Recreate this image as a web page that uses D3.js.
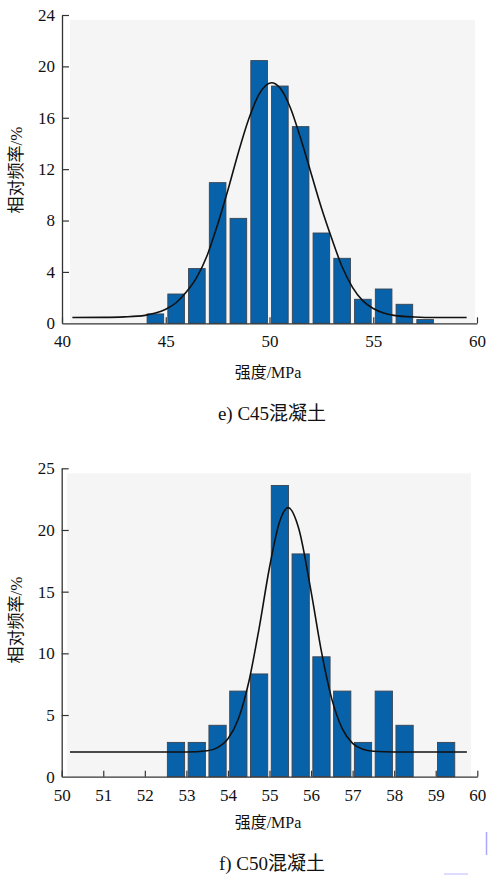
<!DOCTYPE html>
<html>
<head>
<meta charset="utf-8">
<script src="https://cdn.jsdelivr.net/npm/d3@7"></script>
<style>
  html, body { margin: 0; padding: 0; background: #fff; }
  svg { display: block; }
  .tick text { font-family: "Liberation Serif", "DejaVu Serif", "Times New Roman", Times, serif; font-size: 17px; fill: #111; }
  .lbl { font-family: "Liberation Serif", "DejaVu Serif", "Times New Roman", "Noto Sans CJK SC", serif; fill: #111; }
</style>
</head>
<body>
<svg id="chart" width="488" height="875"></svg>
<script>
// e) C45 相对频率 (bin 1 MPa)
var c45Centers = [44.5, 45.5, 46.5, 47.5, 48.5, 49.5, 50.5, 51.5, 52.5, 53.5, 54.5, 55.5, 56.5, 57.5];
var c45Freq = [0.73, 2.28, 4.26, 10.95, 8.17, 20.45, 18.47, 15.31, 7.03, 5.06, 1.87, 2.67, 1.48, 0.29];
// 正态拟合曲线（图上读取的点）
var c45CurveX = [40.5, 42, 43, 44, 44.5, 45, 45.5, 46, 46.5, 47, 47.5, 48, 48.5, 49, 49.5, 50.1, 50.5, 51, 51.5, 52, 52.5, 53, 53.5, 54, 54.5, 55, 55.5, 56, 57, 58, 59.5];
var c45CurveY = [0.45, 0.46, 0.5, 0.62, 0.8, 1.1, 1.6, 2.45, 3.6, 5.3, 7.7, 10.4, 13.3, 15.9, 17.84, 18.73, 18.33, 16.8, 14.4, 11.7, 9.0, 6.6, 4.4, 2.8, 1.75, 1.15, 0.8, 0.62, 0.49, 0.45, 0.45];
var c45XTicks = [40, 45, 50, 55, 60];
var c45YTicks = [0, 4, 8, 12, 16, 20, 24];

// f) C50 相对频率 (bin 0.5 MPa)
var c50Centers = [52.75, 53.25, 53.75, 54.25, 54.75, 55.25, 55.75, 56.25, 56.75, 57.25, 57.75, 58.25, 58.75, 59.25];
var c50Freq = [2.78, 2.78, 4.17, 6.94, 8.33, 23.61, 18.06, 9.72, 6.94, 2.78, 6.94, 4.17, 0, 2.78];
var c50CurveX = [50.2, 53, 53.5, 53.75, 54, 54.25, 54.5, 54.75, 55, 55.25, 55.45, 55.7, 56, 56.25, 56.5, 56.75, 57, 57.25, 57.5, 58, 59.75];
var c50CurveY = [2.0, 2.0, 2.1, 2.36, 3.07, 4.68, 7.66, 12.03, 16.96, 20.74, 21.81, 20.16, 15.02, 10.14, 6.29, 3.9, 2.7, 2.22, 2.06, 2.0, 2.0];
var c50XTicks = [50, 51, 52, 53, 54, 55, 56, 57, 58, 59, 60];
var c50YTicks = [0, 5, 10, 15, 20, 25];

var svg = d3.select('#chart');

function drawPanel(p) {
  var x = d3.scaleLinear().domain(p.xDomain).range([p.left, p.right]);
  var y = d3.scaleLinear().domain(p.yDomain).range([p.bottom, p.top]);
  var g = svg.append('g');

  // 点状灰色底
  g.append('rect')
    .attr('x', p.bgLeft)
    .attr('y', p.top + 5)
    .attr('width', p.bgRight - p.bgLeft)
    .attr('height', p.bottom - p.top - 5)
    .attr('fill', '#f5f5f5');

  var step = p.centers[1] - p.centers[0];
  var bw = x(p.xDomain[0] + step * p.barFrac) - x(p.xDomain[0]);

  g.selectAll('rect.bar')
    .data(p.centers.map(function(c, i) { return { c: c, v: p.freq[i] }; }).filter(function(d) { return d.v > 0; }))
    .enter()
    .append('rect')
    .attr('class', 'bar')
    .attr('x', function(d) { return x(d.c) - bw / 2; })
    .attr('y', function(d) { return y(d.v); })
    .attr('width', bw)
    .attr('height', function(d) { return y(0) - y(d.v); })
    .attr('fill', '#0862a9')
    .attr('stroke', '#3a4450')
    .attr('stroke-width', 0.9);

  var line = d3.line()
    .x(function(d) { return x(d[0]); })
    .y(function(d) { return y(d[1]); })
    .curve(d3.curveMonotoneX);

  g.append('path')
    .datum(p.curveX.map(function(v, i) { return [v, p.curveY[i]]; }))
    .attr('d', line)
    .attr('fill', 'none')
    .attr('stroke', '#111')
    .attr('stroke-width', 1.6);

  // 坐标轴（刻度朝内）
  var yAxis = g.append('g')
    .attr('transform', 'translate(' + p.left + ',0)')
    .call(d3.axisLeft(y).tickValues(p.yTicks).tickSize(-7).tickPadding(7).tickSizeOuter(0));
  var xAxis = g.append('g')
    .attr('transform', 'translate(0,' + p.bottom + ')')
    .call(d3.axisBottom(x).tickValues(p.xTicks).tickSize(-6).tickPadding(8).tickSizeOuter(0));

  [yAxis, xAxis].forEach(function(a) {
    a.attr('font-family', null).attr('font-size', null);
    a.select('.domain').attr('stroke', '#333').attr('stroke-width', 1.3);
    a.selectAll('.tick line').attr('stroke', '#333').attr('stroke-width', 1.2);
  });
  xAxis.selectAll('.tick text').attr('dy', '0.95em');
  yAxis.selectAll('.tick').filter(function(d) { return d === 0; }).select('line').remove();

  g.append('text')
    .attr('class', 'lbl')
    .attr('transform', 'translate(' + p.yLabelX + ',' + p.yLabelY + ') rotate(-90)')
    .attr('text-anchor', 'middle')
    .attr('dominant-baseline', 'middle')
    .style('font-size', '17px')
    .text('相对频率/%');

  g.append('text')
    .attr('class', 'lbl')
    .attr('x', 268)
    .attr('y', p.xLabelY)
    .attr('text-anchor', 'middle')
    .style('font-size', '16px')
    .text('强度/MPa');

  g.append('text')
    .attr('class', 'lbl')
    .attr('x', 272)
    .attr('y', p.captionY)
    .attr('text-anchor', 'middle')
    .style('font-size', '19px')
    .text(p.caption);
}

drawPanel({
  xDomain: [40, 60], yDomain: [0, 24],
  left: 62, right: 477, top: 15, bottom: 323.3,
  bgLeft: 70, bgRight: 475,
  centers: c45Centers, freq: c45Freq, barFrac: 0.8,
  curveX: c45CurveX, curveY: c45CurveY,
  xTicks: c45XTicks, yTicks: c45YTicks,
  yLabelX: 18, yLabelY: 170, xLabelY: 378, captionY: 420,
  caption: 'e) C45混凝土'
});

drawPanel({
  xDomain: [50, 60], yDomain: [0, 25],
  left: 61.7, right: 477.3, top: 468.3, bottom: 776.7,
  bgLeft: 67, bgRight: 471,
  centers: c50Centers, freq: c50Freq, barFrac: 0.83,
  curveX: c50CurveX, curveY: c50CurveY,
  xTicks: c50XTicks, yTicks: c50YTicks,
  yLabelX: 18, yLabelY: 620, xLabelY: 828, captionY: 870,
  caption: 'f) C50混凝土'
});

// 右下角的扫描痕迹
svg.append('line').attr('x1', 486.5).attr('x2', 486.5).attr('y1', 832).attr('y2', 855)
  .attr('stroke', '#a9a9ff').attr('stroke-width', 1.5);
svg.append('line').attr('x1', 444).attr('x2', 468).attr('y1', 874).attr('y2', 874)
  .attr('stroke', '#c4c4ff').attr('stroke-width', 1.2);
</script>
</body>
</html>
